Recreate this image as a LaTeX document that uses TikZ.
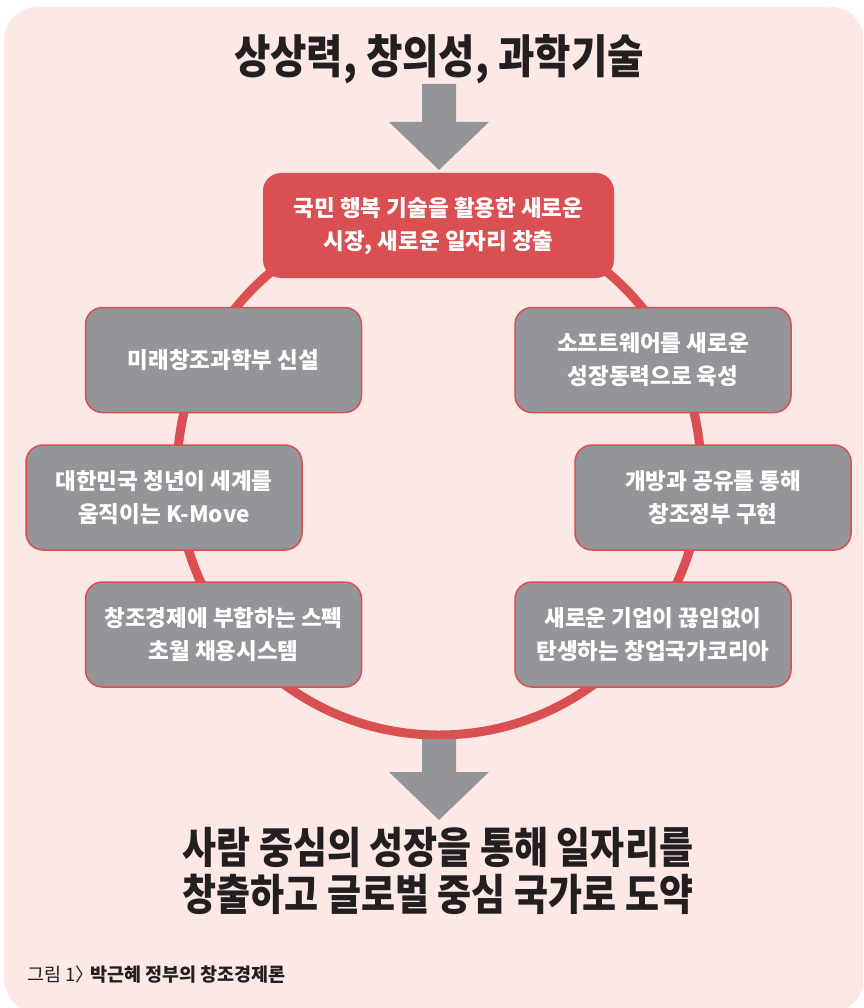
\documentclass[tikz,border=0pt]{standalone}
\usepackage{fontspec}
\newfontfamily\kr{Noto Sans CJK KR}
\newfontfamily\krc{Noto Sans CJK KR}[FakeStretch=0.86]
\definecolor{panelc}{HTML}{FCE9E6}
\definecolor{redc}{HTML}{DA4F52}
\definecolor{grayc}{HTML}{939598}
\definecolor{inkc}{HTML}{231F20}
\tikzset{
  graybox/.style={draw=redc, line width=1.5pt, fill=grayc, rounded corners=17pt,
    text=white, font=\kr\bfseries\fontsize{22.5}{33}\selectfont, align=center,
    minimum width=276pt, minimum height=105pt, inner sep=0pt},
  redbox/.style={fill=redc, rounded corners=18pt,
    text=white, font=\kr\bfseries\fontsize{22.5}{33}\selectfont, align=center,
    minimum width=351pt, minimum height=105pt, inner sep=0pt},
  bigtext/.style={text=inkc, align=center, inner sep=0pt},
  blockarrow/.style={fill=grayc},
  ring/.style={draw=redc, line width=9pt}
}
\begin{document}
\begin{tikzpicture}[x=1pt,y=-1pt]
\useasboundingbox (0,0) rectangle (863,1008);
\begin{scope}
\clip (0,0) rectangle (863,1008);
\fill[panelc, rounded corners=33pt] (4,7) rectangle (864,1012);
\end{scope}
% title
\node[bigtext, font=\krc\bfseries\fontsize{46}{50}\selectfont] (title) at (439,59) {상상력, 창의성, 과학기술};
% top arrow
\fill[blockarrow] (422,84) -- (456,84) -- (456,122) -- (489,122) -- (439,170) -- (389,122) -- (422,122) -- cycle;
% ring
\coordinate (ringc) at (439,473);
\draw[ring] (ringc) circle[radius=262];
% bottom arrow
\fill[blockarrow] (422,739) -- (456,739) -- (456,772) -- (489,772) -- (439,820) -- (389,772) -- (422,772) -- cycle;
\draw[redc, line width=9pt] (ringc) ++(-100:262) arc[start angle=-100, end angle=-80, radius=262];
% boxes
\node[redbox] (top) at (438.5,225.5) {국민 행복 기술을 활용한 새로운\\시장, 새로운 일자리 창출};
\node[graybox] (l1) at (223.5,360) {미래창조과학부 신설};
\node[graybox] (l2) at (164,497.5) {대한민국 청년이 세계를\\움직이는 K-Move};
\node[graybox] (l3) at (223.5,634.5) {창조경제에 부합하는 스펙\\초월 채용시스템};
\node[graybox] (r1) at (653,360) {소프트웨어를 새로운\\성장동력으로 육성};
\node[graybox] (r2) at (713,497.5) {개방과 공유를 통해\\창조정부 구현};
\node[graybox] (r3) at (653,634.5) {새로운 기업이 끊임없이\\탄생하는 창업국가코리아};
% bottom text
\node[bigtext, font=\krc\bfseries\fontsize{43}{47}\selectfont] (result) at (438,871) {사람 중심의 성장을 통해 일자리를\\창출하고 글로벌 중심 국가로 도약};
% caption
\node[anchor=west, text=inkc, inner sep=0pt, font=\kr\fontsize{18.5}{21}\selectfont] (cap) at (27,975) {그림 1〉\hspace{-4pt}\textbf{박근혜 정부의 창조경제론}};
\end{tikzpicture}
\end{document}
